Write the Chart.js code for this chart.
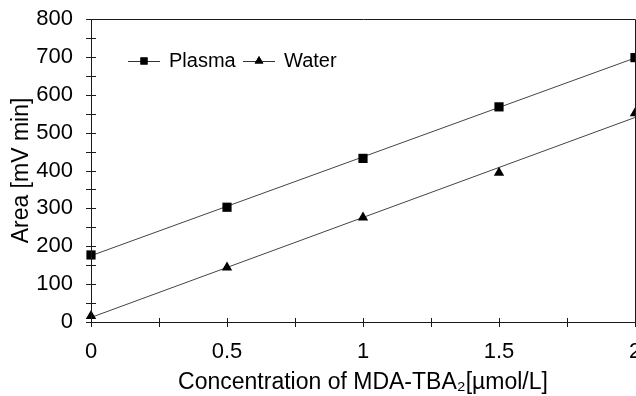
<!DOCTYPE html>
<html>
<head>
<meta charset="utf-8">
<script src="https://cdn.jsdelivr.net/npm/chart.js@4.4.1/dist/chart.umd.min.js"></script>
<style>
  html, body { margin: 0; padding: 0; overflow: hidden; background: #fff; }
  #wrap { width: 644px; height: 396px; }
</style>
</head>
<body>
<div id="wrap"><canvas id="resultChart" width="644" height="396"></canvas></div>
<script>
// concentration of MDA-TBA2 (umol/L)
const concentrations = [0, 0.5, 1, 1.5, 2];
// peak areas
const plasmaArea = [177, 303, 432, 568, 698];
const waterArea = [16, 144, 276, 394, 551];
// fitted lines, read at x = 0 and x = 2
const fitX = [0, 2];
const plasmaFit = [175, 697];
const waterFit = [12, 540];

const xTickLabels = ['0', '0.5', '1', '1.5', '2'];
const yTicks = [0, 100, 200, 300, 400, 500, 600, 700, 800];

const FONT = '"Liberation Sans", Arial, sans-serif';

function toPoints(xs, ys) {
  return xs.map((x, i) => ({ x: x, y: ys[i] }));
}

// frame, crossing ticks and the little legend in the top left
const framePlugin = {
  id: 'frame',
  afterDatasetsDraw(chart) {
    const { ctx, chartArea: a, scales } = chart;
    ctx.save();
    ctx.strokeStyle = '#1a1a1a';
    ctx.lineWidth = 1;
    ctx.beginPath();
    ctx.rect(Math.round(a.left) + 0.5, Math.round(a.top) + 0.5,
             Math.round(a.right - a.left), Math.round(a.bottom - a.top));
    ctx.stroke();

    // y ticks every 50, x ticks every 0.25
    ctx.beginPath();
    for (let v = 0; v <= 800; v += 50) {
      const y = Math.round(scales.y.getPixelForValue(v)) + 0.5;
      ctx.moveTo(a.left - 5, y);
      ctx.lineTo(a.left + 5, y);
    }
    for (let v = 0; v <= 2; v += 0.25) {
      const x = Math.round(scales.x.getPixelForValue(v)) + 0.5;
      ctx.moveTo(x, a.bottom - 4);
      ctx.lineTo(x, a.bottom + 5);
    }
    ctx.stroke();

    // legend
    const items = [
      { label: 'Plasma', style: 'rect', x: 128 },
      { label: 'Water', style: 'triangle', x: 243 }
    ];
    const ly = 61;
    ctx.font = '20px ' + FONT;
    ctx.textBaseline = 'middle';
    ctx.fillStyle = '#000';
    items.forEach(it => {
      ctx.strokeStyle = '#333';
      ctx.beginPath();
      ctx.moveTo(it.x, ly + 0.5);
      ctx.lineTo(it.x + 32, ly + 0.5);
      ctx.stroke();
      Chart.helpers.drawPoint(ctx, {
        pointStyle: it.style, radius: 5, borderWidth: 0,
      }, it.x + 16, ly);
      ctx.fillStyle = '#000';
      ctx.fill();
      ctx.fillText(it.label, it.x + 41, ly);
    });
    ctx.restore();
  }
};

new Chart(document.getElementById('resultChart'), {
  type: 'scatter',
  data: {
    datasets: [
      {
        label: 'Plasma',
        data: toPoints(concentrations, plasmaArea),
        pointStyle: 'rect',
        pointRadius: 6.5,
        backgroundColor: '#000',
        borderColor: '#000',
        borderWidth: 0,
        showLine: false,
        clip: false
      },
      {
        label: 'Water',
        data: toPoints(concentrations, waterArea),
        pointStyle: 'triangle',
        pointRadius: 6,
        backgroundColor: '#000',
        borderColor: '#000',
        borderWidth: 0,
        showLine: false,
        clip: false
      },
      {
        label: 'Plasma fit',
        data: toPoints(fitX, plasmaFit),
        showLine: true,
        pointRadius: 0,
        borderColor: '#444',
        borderWidth: 1,
        clip: false
      },
      {
        label: 'Water fit',
        data: toPoints(fitX, waterFit),
        showLine: true,
        pointRadius: 0,
        borderColor: '#444',
        borderWidth: 1,
        clip: false
      }
    ]
  },
  options: {
    responsive: false,
    animation: false,
    layout: { padding: { top: 19, right: 9, left: 0, bottom: 0 } },
    plugins: {
      legend: { display: false },
      tooltip: { enabled: false }
    },
    scales: {
      x: {
        type: 'linear',
        min: 0,
        max: 2,
        afterFit: s => {
          s.height = 74;
          s.paddingLeft = 0;
          s.paddingRight = 0;
        },
        afterBuildTicks: s => { s.ticks = concentrations.map(v => ({ value: v })); },
        ticks: {
          color: '#000',
          font: { family: FONT, size: 22 },
          padding: 17,
          maxRotation: 0,
          callback: (v, i) => xTickLabels[i]
        },
        grid: { display: false, drawTicks: false },
        border: { display: false },
        title: {
          display: true,
          text: 'Concentration of MDA-TBA\u2082[\u00b5mol/L]',
          color: '#000',
          font: { family: FONT, size: 23 },
          padding: { top: 14, bottom: 0 }
        }
      },
      y: {
        min: 0,
        max: 800,
        afterFit: s => {
          s.width = 91;
          s.paddingTop = 0;
          s.paddingBottom = 0;
        },
        afterBuildTicks: s => { s.ticks = yTicks.map(v => ({ value: v })); },
        ticks: {
          color: '#000',
          font: { family: FONT, size: 22 },
          padding: 18
        },
        grid: { display: false, drawTicks: false },
        border: { display: false },
        title: {
          display: true,
          text: 'Area [mV min]',
          color: '#000',
          font: { family: FONT, size: 23 },
          padding: { top: 8, bottom: 0 }
        }
      }
    }
  },
  plugins: [framePlugin]
});
</script>
</body>
</html>
